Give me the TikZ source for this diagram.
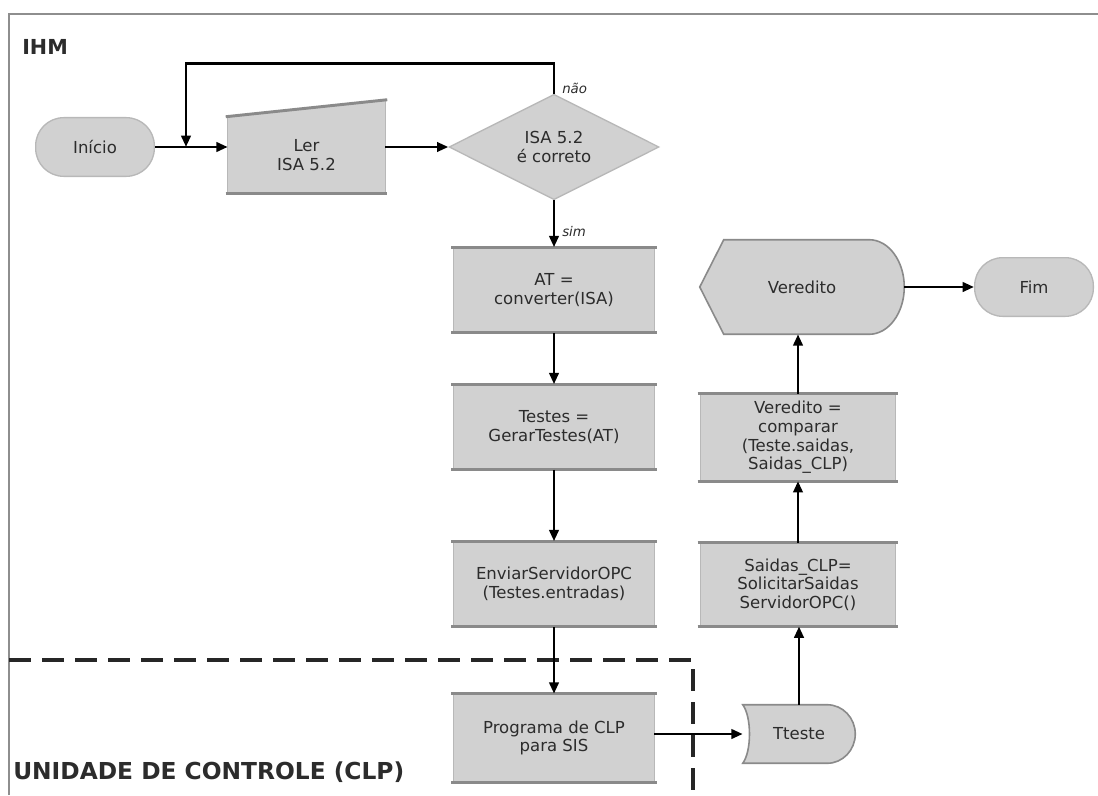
\documentclass[tikz,border=0pt]{standalone}
\usepackage{fontspec}
\setmainfont{DejaVu Sans}
\usetikzlibrary{arrows.meta,shapes.geometric,calc,backgrounds}

\definecolor{boxfill}{HTML}{D1D1D1}
\definecolor{ledge}{HTML}{8A8A8A}
\definecolor{rim}{HTML}{B8B8B8}
\definecolor{txt}{HTML}{2C2C2C}
\definecolor{framec}{HTML}{8E8E8E}

\begin{document}
\begin{tikzpicture}[x=0.75pt,y=-0.75pt,
  every node/.style={text=txt, font=\fontsize{12.4}{14}\selectfont},
  procbox/.style={rectangle, fill=boxfill, minimum width=150pt,
    minimum height=63.75pt, align=center, inner sep=0pt},
  narrowbox/.style={procbox, minimum width=146pt},
  term/.style={rectangle, rounded corners=21pt, fill=boxfill, draw=rim,
    line width=1pt, minimum width=89pt, minimum height=44pt, inner sep=0pt},
  decision/.style={diamond, fill=boxfill, draw=rim, line width=1pt,
    minimum width=157.5pt, minimum height=67.5pt, inner sep=0pt, align=center},
  holder/.style={rectangle, inner sep=0pt, align=center},
  ledgeline/.style={draw=ledge, line width=2.2pt},
  sideline/.style={draw=rim, line width=0.7pt},
  outline/.style={draw=ledge, line width=1.2pt},
  arr/.style={draw=black, line width=2.1pt, -{Triangle[length=8.5pt,width=7pt]}},
  lbl/.style={font=\fontsize{10}{12}\selectfont\itshape, inner sep=0pt},
  zone/.style={draw=black!85, line width=2.8pt, dash pattern=on 16.5pt off 8.25pt},
  title/.style={font=\fontsize{15.5}{18}\selectfont\bfseries, inner sep=0pt},
  zonetitle/.style={font=\fontsize{17.5}{20}\selectfont\bfseries, inner sep=0pt}
]
\useasboundingbox (0,0) rectangle (1098,795);
\begin{pgfonlayer}{background}
  \fill[white] (0,0) rectangle (1098,795);
\end{pgfonlayer}

% outer frame
\draw[framec, line width=1.5pt] (9,795) -- (9,14) -- (1098,14);

% region titles
\node[title, anchor=west] (ihm) at (22,47) {IHM};
\node[zonetitle, anchor=west] (clp) at (13,772) {UNIDADE DE CONTROLE (CLP)};

% boundary of the control unit
\draw[zone] (9,660) -- (693,660) -- (693,795);

% start / end
\node[term] (inicio) at (95,147) {Início};
\node[term] (fim) at (1034,287) {Fim};

% manual input
\node[holder, minimum width=117.75pt, minimum height=57pt] (ler) at (306.5,155) {Ler\\ISA 5.2};
\begin{pgfonlayer}{background}
  \fill[boxfill] (ler.south west) -- (ler.south east)
    -- ([yshift=12.75pt]ler.north east) -- (ler.north west) -- cycle;
  \draw[sideline] (ler.south west) -- (ler.north west);
  \draw[sideline] (ler.south east) -- ([yshift=12.75pt]ler.north east);
\end{pgfonlayer}
\draw[ledgeline] ([xshift=-1.5pt]ler.north west) -- ([yshift=12.75pt,xshift=1.5pt]ler.north east);
\draw[ledgeline] ([xshift=-1.5pt]ler.south west) -- ([xshift=1.5pt]ler.south east);

% decision
\node[decision] (dec) at (554,147) {ISA 5.2\\é correto};

% left column of processes
\node[procbox] (at) at (554,290) {AT =\\converter(ISA)};
\node[procbox] (testes) at (554,427) {Testes =\\GerarTestes(AT)};
\node[procbox] (enviar) at (554,584) {EnviarServidorOPC\\(Testes.entradas)};
\node[procbox, minimum height=66pt] (programa) at (554,738) {Programa de CLP\\para SIS};

% right column of processes
\node[narrowbox, minimum height=65pt] (comparar) at (798,437.5) {Veredito =\\comparar\\(Teste.saidas,\\Saidas\_CLP)};
\node[narrowbox, minimum height=62.5pt] (saidas) at (798,584.5) {Saidas\_CLP=\\SolicitarSaidas\\ServidorOPC()};

\foreach \n in {at,testes,enviar,programa,comparar,saidas}{
  \draw[sideline] (\n.north west) -- (\n.south west);
  \draw[sideline] (\n.north east) -- (\n.south east);
  \draw[ledgeline] ([xshift=-2pt]\n.north west) -- ([xshift=2pt]\n.north east);
  \draw[ledgeline] ([xshift=-2pt]\n.south west) -- ([xshift=2pt]\n.south east);
}

% display
\node[holder, minimum width=153pt, minimum height=70.5pt] (ver) at (802,287) {Veredito};
\begin{pgfonlayer}{background}
  \path[fill=boxfill, outline] (ver.west) -- ($(ver.north west)+(24,0)$)
    -- ($(ver.north east)+(-35,0)$)
    .. controls ($(ver.north east)+(-15.7,0)$) and ($(ver.east)+(0,-26)$) .. (ver.east)
    .. controls ($(ver.east)+(0,26)$) and ($(ver.south east)+(-15.7,0)$) .. ($(ver.south east)+(-35,0)$)
    -- ($(ver.south west)+(24,0)$) -- cycle;
\end{pgfonlayer}

% delay
\node[holder, minimum width=84pt, minimum height=43.5pt] (tt) at (799,734) {Tteste};
\begin{pgfonlayer}{background}
  \path[fill=boxfill, outline] (tt.north west) -- ($(tt.north east)+(-28,0)$)
    .. controls ($(tt.north east)+(-12.5,0)$) and ($(tt.east)+(0,-16)$) .. (tt.east)
    .. controls ($(tt.east)+(0,16)$) and ($(tt.south east)+(-12.5,0)$) .. ($(tt.south east)+(-28,0)$)
    -- (tt.south west)
    .. controls ($(tt.south west)+(9,-12)$) and ($(tt.north west)+(9,12)$) .. (tt.north west) -- cycle;
\end{pgfonlayer}

% connectors
\coordinate (loopin) at (186,147);
\draw[arr] (inicio.east) -- (inicio.east -| ler.west);
\draw[arr] (ler.east |- dec.west) -- (dec.west);
\draw[arr] (dec.north) -- ++(0,-30) -| (loopin);
\node[lbl, anchor=west] (nao) at (562,88) {não};
\draw[arr] (dec.south) -- (at.north);
\node[lbl, anchor=west] (sim) at (562,232) {sim};
\draw[arr] (at.south) -- (testes.north);
\draw[arr] (testes.south) -- (enviar.north);
\draw[arr] (enviar.south) -- (programa.north);
\draw[arr] (tt.west -| programa.east) -- (tt.west);
\draw[arr] (tt.north) -- (tt.north |- saidas.south);
\draw[arr] (saidas.north) -- (comparar.south);
\draw[arr] (comparar.north) -- (comparar.north |- ver.south);
\draw[arr] (ver.east) -- (ver.east -| fim.west);
\end{tikzpicture}
\end{document}
